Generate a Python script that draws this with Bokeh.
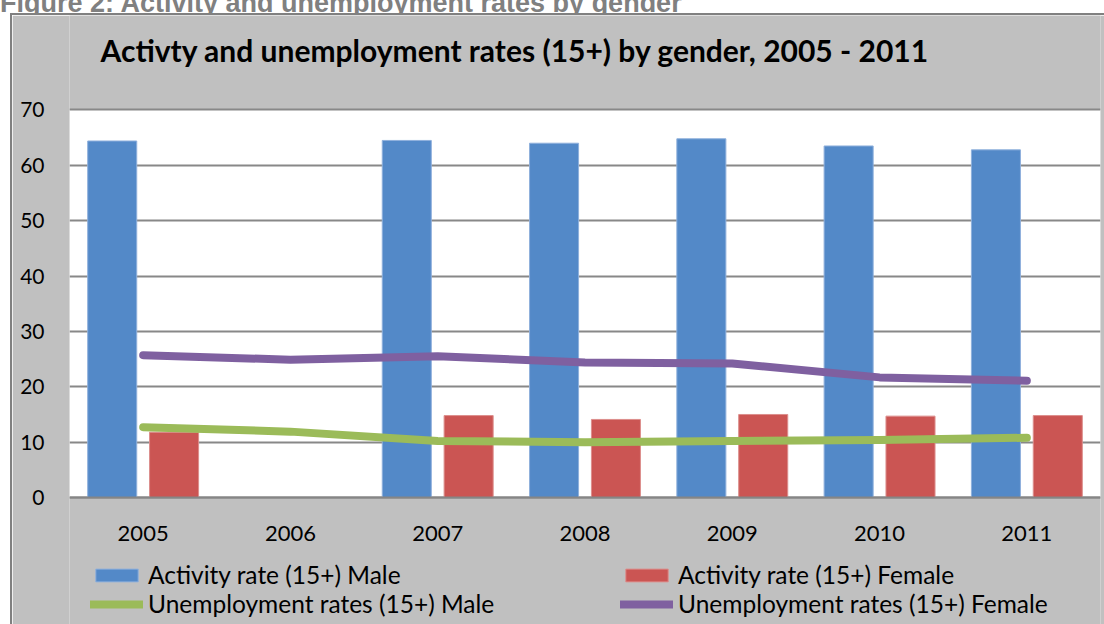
from bokeh.plotting import figure
from bokeh.models import (ColumnDataSource, Legend, LegendItem, Range1d, FactorRange,
                          Div, FixedTicker, BoxAnnotation, Label)
from bokeh.layouts import column
from bokeh.transform import dodge
from bokeh.embed import file_html
from bokeh.resources import INLINE

nan = float("nan")

years = ["2005", "2006", "2007", "2008", "2009", "2010", "2011"]
activity_male = [64.4, nan, 64.5, 64.0, 64.8, 63.5, 62.8]
activity_female = [11.8, nan, 14.8, 14.1, 15.0, 14.7, 14.8]
unemp_male = [12.7, 11.9, 10.2, 10.0, 10.2, 10.4, 10.8]
unemp_female = [25.7, 24.9, 25.5, 24.4, 24.2, 21.7, 21.1]
y_ticks = [0, 10, 20, 30, 40, 50, 60, 70]

title_text = "Activty and unemployment rates  (15+) by gender, 2005 - 2011"
caption_text = "Figure 2: Activity and unemployment rates by gender"
labels = ["Activity rate (15+) Male", "Activity rate (15+) Female",
          "Unemployment rates (15+) Male", "Unemployment rates (15+) Female"]

BLUE = "#5389c8"
RED = "#cb5553"
GREEN = "#9bbb59"
PURPLE = "#7f60a0"
GREY = "#c0c0c0"
FONT = "Lato"

src = ColumnDataSource(dict(x=years, am=activity_male, af=activity_female,
                            um=unemp_male, uf=unemp_female))

# y range extended above/below the plot area so that the title and legend
# live inside the frame; the white plot area covers 0..70
p = figure(x_range=FactorRange(*years), y_range=Range1d(-22.94, 87.07),
           frame_width=1031, frame_height=609, output_backend="svg",
           toolbar_location=None,
           min_border_left=57, min_border_right=4, min_border_top=0,
           min_border_bottom=0)
p.title.visible = False
p.border_fill_color = GREY
p.background_fill_color = GREY
p.outline_line_color = None

plot_area = BoxAnnotation(bottom=y_ticks[0], top=y_ticks[-1], fill_color="white",
                          fill_alpha=1, line_color=None, level="image")
p.add_layout(plot_area)

p.add_layout(Label(x=3.05, y=80.75, text=title_text, text_align="center",
                   text_baseline="middle", text_font=FONT, text_font_size="30px",
                   text_font_style="bold", text_color="black"))

r_am = p.vbar(x=dodge("x", -0.21, range=p.x_range), top="am", width=0.333,
              source=src, fill_color=BLUE, line_color="#8fb0dc", line_width=1)
r_af = p.vbar(x=dodge("x", 0.21, range=p.x_range), top="af", width=0.333,
              source=src, fill_color=RED, line_color="#dc8e8c", line_width=1)
r_um = p.line(x="x", y="um", source=src, line_color=GREEN, line_width=8,
              line_cap="round", line_join="round")
r_uf = p.line(x="x", y="uf", source=src, line_color=PURPLE, line_width=8,
              line_cap="round", line_join="round")

# axes
p.yaxis.ticker = FixedTicker(ticks=y_ticks)
p.yaxis.axis_line_color = None
p.yaxis.major_tick_line_color = None
p.yaxis.minor_tick_line_color = None
p.yaxis.major_label_standoff = 19
p.yaxis.major_label_text_font = FONT
p.yaxis.major_label_text_font_size = "21px"
p.yaxis.major_label_text_color = "black"

p.xaxis.fixed_location = 0
p.xaxis.axis_line_color = "#868686"
p.xaxis.axis_line_width = 2
p.xaxis.major_tick_line_color = None
p.xaxis.minor_tick_line_color = None
p.xaxis.major_label_standoff = 22
p.xaxis.major_label_text_font = FONT
p.xaxis.major_label_text_font_size = "22px"
p.xaxis.major_label_text_color = "black"

p.xgrid.grid_line_color = None
p.ygrid.ticker = FixedTicker(ticks=y_ticks)
p.ygrid.grid_line_color = "#888888"
p.ygrid.grid_line_width = 2


def make_legend(items, loc):
    lg = Legend(items=items, orientation="horizontal", location=loc)
    lg.background_fill_alpha = 0
    lg.border_line_color = None
    lg.padding = 0
    lg.margin = 0
    lg.spacing = 4
    lg.glyph_width = 53
    lg.glyph_height = 16
    lg.label_height = 25
    lg.label_width = 468
    lg.label_standoff = 5
    lg.label_text_font = FONT
    lg.label_text_font_size = "24.5px"
    lg.label_text_color = "black"
    return lg


leg1 = make_legend([LegendItem(label=labels[0], renderers=[r_am]),
                    LegendItem(label=labels[1], renderers=[r_af])], (21, 35))
leg2 = make_legend([LegendItem(label=labels[2], renderers=[r_um]),
                    LegendItem(label=labels[3], renderers=[r_uf])], (21, 6))
p.add_layout(leg1)
p.add_layout(leg2)

p.margin = (2, 0, 0, 12)
p.styles = {"outline": "2px solid #808080"}

caption = Div(text=('<div style="font-family:\'Liberation Sans\',Arial,sans-serif;'
                    'font-weight:bold;font-size:27px;color:#808080;white-space:nowrap;'
                    'line-height:22px;margin-top:-24px;">' + caption_text + '</div>'),
              width=1104, height=13, margin=(0, 0, 0, 0),
              styles={"overflow": "hidden"})

layout = column(caption, p, spacing=0)
open("out.html", "w").write(file_html(layout, INLINE))
